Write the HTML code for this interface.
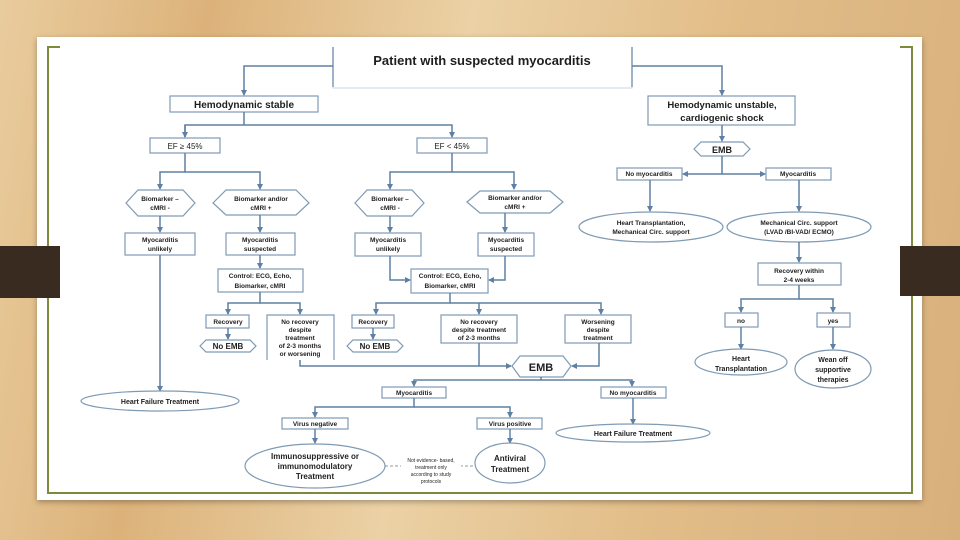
<!DOCTYPE html>
<html><head><meta charset="utf-8"><style>
html,body{margin:0;padding:0;width:960px;height:540px;overflow:hidden}
body{background:linear-gradient(100deg,#e9cc9d 0%,#dcb27a 20%,#ebd1a5 45%,#e2bd88 70%,#d8b07c 100%);font-family:"Liberation Sans",sans-serif}
svg{position:absolute;left:0;top:0}
text{font-family:"Liberation Sans",sans-serif;fill:#1e1e1e;text-anchor:middle}
.b{fill:#fff;stroke:#7f9ab4;stroke-width:1.2}
.l{fill:none;stroke:#5f80a4;stroke-width:1.5}
.s{font-size:6.5px;font-weight:bold}
.m{font-size:8px;font-weight:bold}
</style></head><body>
<svg width="960" height="540" viewBox="0 0 960 540">
<defs><marker id="a" markerWidth="6" markerHeight="6" refX="5" refY="3" orient="auto" markerUnits="userSpaceOnUse"><path d="M0,0 L6,3 L0,6 z" fill="#5f80a4"/></marker></defs>
<rect x="37" y="37" width="885" height="463" fill="#fff" style="filter:drop-shadow(0 2px 3px rgba(0,0,0,.3))"/>
<path d="M60,47 H48 V493 H912 V47 H900" fill="none" stroke="#7d8a3c" stroke-width="2"/>
<rect x="0" y="246" width="60" height="52" fill="#3a2b20"/>
<rect x="900" y="246" width="60" height="50" fill="#3a2b20"/>
<!-- title -->
<path d="M333,47 V88 H632 V47" fill="none" stroke="#c8d6e4" stroke-width="1"/>
<path d="M333,47 V87" stroke="#5f80a4" stroke-width="1.2"/>
<path d="M632,47 V87" stroke="#5f80a4" stroke-width="1.2"/>
<text x="482" y="65" style="font-size:13px;font-weight:bold">Patient with suspected myocarditis</text>
<path class="l" d="M333,66 H244 V95" marker-end="url(#a)"/>
<path class="l" d="M632,66 H722 V95" marker-end="url(#a)"/>
<!-- stable -->
<rect class="b" x="170" y="96" width="148" height="16"/>
<text x="244" y="108" style="font-size:10px;font-weight:bold">Hemodynamic stable</text>
<path class="l" d="M244,112 V125 M185,137 V125 H452 V137" marker-end="url(#a)"/>
<path class="l" d="M185,125 V137" marker-end="url(#a)"/>
<rect class="b" x="150" y="138" width="70" height="15"/><text x="185" y="149" style="font-size:8px">EF ≥ 45%</text>
<rect class="b" x="417" y="138" width="70" height="15"/><text x="452" y="149" style="font-size:8px">EF &lt; 45%</text>
<path class="l" d="M185,153 V172 H260 V189" marker-end="url(#a)"/><path class="l" d="M185,172 H160 V189" marker-end="url(#a)"/>
<path class="l" d="M452,153 V172 H514 V189" marker-end="url(#a)"/><path class="l" d="M452,172 H390 V189" marker-end="url(#a)"/>
<polygon class="b" points="126,203 138,190 183,190 195,203 183,216 138,216"/>
<text x="160" y="201" class="s">Biomarker –</text><text x="160" y="210" class="s">cMRI -</text>
<polygon class="b" points="213,203 226,190 296,190 309,203 296,215 226,215"/>
<text x="261" y="201" class="s">Biomarker and/or</text><text x="261" y="210" class="s">cMRI +</text>
<polygon class="b" points="355,203 367,190 412,190 424,203 412,216 367,216"/>
<text x="390" y="201" class="s">Biomarker –</text><text x="390" y="210" class="s">cMRI -</text>
<polygon class="b" points="467,202 480,191 550,191 563,202 550,213 480,213"/>
<text x="515" y="200" class="s">Biomarker and/or</text><text x="515" y="209" class="s">cMRI +</text>
<path class="l" d="M160,216 V232" marker-end="url(#a)"/><path class="l" d="M260,215 V232" marker-end="url(#a)"/>
<path class="l" d="M390,216 V232" marker-end="url(#a)"/><path class="l" d="M505,213 V232" marker-end="url(#a)"/>
<rect class="b" x="125" y="233" width="70" height="22"/><text x="160" y="242" class="s">Myocarditis</text><text x="160" y="251" class="s">unlikely</text>
<rect class="b" x="226" y="233" width="69" height="22"/><text x="260" y="242" class="s">Myocarditis</text><text x="260" y="251" class="s">suspected</text>
<rect class="b" x="355" y="233" width="66" height="23"/><text x="388" y="242" class="s">Myocarditis</text><text x="388" y="251" class="s">unlikely</text>
<rect class="b" x="478" y="233" width="56" height="23"/><text x="506" y="242" class="s">Myocarditis</text><text x="506" y="251" class="s">suspected</text>
<path class="l" d="M260,255 V268" marker-end="url(#a)"/>
<path class="l" d="M390,256 V280 H410" marker-end="url(#a)"/><path class="l" d="M505,256 V280 H489" marker-end="url(#a)"/>
<rect class="b" x="218" y="269" width="85" height="23"/><text x="260" y="278" class="s">Control: ECG, Echo,</text><text x="260" y="288" class="s">Biomarker, cMRI</text>
<rect class="b" x="411" y="269" width="77" height="24"/><text x="450" y="278" class="s">Control: ECG, Echo,</text><text x="450" y="288" class="s">Biomarker, cMRI</text>
<path class="l" d="M160,255 V391" marker-end="url(#a)"/>
<ellipse class="b" cx="160" cy="401" rx="79" ry="10"/><text x="160" y="404" class="s" style="font-size:7px">Heart Failure Treatment</text>
<!-- control1 outputs -->
<path class="l" d="M260,292 V303 H300 V314" marker-end="url(#a)"/><path class="l" d="M260,303 H228 V314" marker-end="url(#a)"/>
<rect class="b" x="206" y="315" width="43" height="13"/><text x="228" y="324" class="s">Recovery</text>
<path class="l" d="M228,328 V339" marker-end="url(#a)"/>
<polygon class="b" points="200,346 206,340 250,340 256,346 250,352 206,352"/><text x="228" y="349" class="m">No EMB</text>
<path d="M267,360 V315 H334 V360" fill="#fff" stroke="#7f9ab4" stroke-width="1.2"/>
<text x="300" y="324" class="s">No recovery</text><text x="300" y="332" class="s">despite</text><text x="300" y="340" class="s">treatment</text><text x="300" y="348" class="s">of 2-3 months</text><text x="300" y="356" class="s">or worsening</text>
<!-- control2 outputs -->
<path class="l" d="M450,293 V303 H376 V314" marker-end="url(#a)"/><path class="l" d="M450,303 H601 V314" marker-end="url(#a)"/><path class="l" d="M479,303 V314" marker-end="url(#a)"/>
<rect class="b" x="352" y="315" width="42" height="13"/><text x="373" y="324" class="s">Recovery</text>
<path class="l" d="M373,328 V339" marker-end="url(#a)"/>
<polygon class="b" points="347,346 353,340 397,340 403,346 397,352 353,352"/><text x="375" y="349" class="m">No EMB</text>
<rect class="b" x="441" y="315" width="76" height="28"/><text x="479" y="324" class="s">No recovery</text><text x="479" y="332" class="s">despite treatment</text><text x="479" y="340" class="s">of 2-3 months</text>
<rect class="b" x="565" y="315" width="66" height="28"/><text x="598" y="324" class="s">Worsening</text><text x="598" y="332" class="s">despite</text><text x="598" y="340" class="s">treatment</text>
<path class="l" d="M300,360 V366 H511" marker-end="url(#a)"/><path class="l" d="M479,343 V366"/>
<path class="l" d="M599,343 V366 H572" marker-end="url(#a)"/>
<polygon class="b" points="512,366 520,356 563,356 571,366 563,377 520,377"/><text x="541" y="371" style="font-size:11px;font-weight:bold">EMB</text>
<path class="l" d="M541,377 V380 H414 V386" marker-end="url(#a)"/><path class="l" d="M541,380 H632 V386" marker-end="url(#a)"/>
<rect class="b" x="382" y="387" width="64" height="11"/><text x="414" y="395" class="s">Myocarditis</text>
<rect class="b" x="601" y="387" width="65" height="11"/><text x="633" y="395" class="s">No myocarditis</text>
<path class="l" d="M414,398 V407 H315 V417" marker-end="url(#a)"/><path class="l" d="M414,407 H510 V417" marker-end="url(#a)"/>
<rect class="b" x="282" y="418" width="66" height="11"/><text x="315" y="426" class="s">Virus negative</text>
<rect class="b" x="477" y="418" width="65" height="11"/><text x="510" y="426" class="s">Virus positive</text>
<path class="l" d="M633,398 V424" marker-end="url(#a)"/>
<ellipse class="b" cx="633" cy="433" rx="77" ry="9"/><text x="633" y="436" class="s" style="font-size:7px">Heart Failure Treatment</text>
<path class="l" d="M315,429 V443" marker-end="url(#a)"/><path class="l" d="M510,429 V443" marker-end="url(#a)"/>
<ellipse class="b" cx="315" cy="466" rx="70" ry="22"/>
<text x="315" y="459" class="m">Immunosuppressive or</text><text x="315" y="469" class="m">immunomodulatory</text><text x="315" y="479" class="m">Treatment</text>
<ellipse class="b" cx="510" cy="463" rx="35" ry="20"/>
<text x="510" y="461" class="m">Antiviral</text><text x="510" y="472" class="m">Treatment</text>
<path d="M385,466 H475" stroke="#777" stroke-width="0.8" stroke-dasharray="3,2"/>
<rect x="401" y="455" width="60" height="28" fill="#fff"/>
<text x="431" y="462" style="font-size:5px">Not evidence- based,</text><text x="431" y="469" style="font-size:5px">treatment only</text><text x="431" y="476" style="font-size:5px">according to study</text><text x="431" y="483" style="font-size:5px">protocols</text>
<!-- right side -->
<rect class="b" x="648" y="96" width="147" height="29"/>
<text x="722" y="108" style="font-size:9.5px;font-weight:bold">Hemodynamic unstable,</text><text x="722" y="121" style="font-size:9.5px;font-weight:bold">cardiogenic shock</text>
<path class="l" d="M722,125 V141" marker-end="url(#a)"/>
<polygon class="b" points="694,149 701,142 743,142 750,149 743,156 701,156"/><text x="722" y="153" style="font-size:9px;font-weight:bold">EMB</text>
<path class="l" d="M722,156 V174 H683" marker-end="url(#a)"/><path class="l" d="M722,174 H765" marker-end="url(#a)"/>
<rect class="b" x="617" y="168" width="65" height="12"/><text x="649" y="176" class="s">No myocarditis</text>
<rect class="b" x="766" y="168" width="65" height="12"/><text x="798" y="176" class="s">Myocarditis</text>
<path class="l" d="M650,180 V211" marker-end="url(#a)"/><path class="l" d="M799,180 V211" marker-end="url(#a)"/>
<ellipse class="b" cx="651" cy="227" rx="72" ry="15"/><text x="651" y="225" class="s">Heart Transplantation,</text><text x="651" y="234" class="s">Mechanical Circ. support</text>
<ellipse class="b" cx="799" cy="227" rx="72" ry="15"/><text x="799" y="225" class="s">Mechanical Circ. support</text><text x="799" y="234" class="s">(LVAD /BI-VAD/ ECMO)</text>
<path class="l" d="M799,242 V262" marker-end="url(#a)"/>
<rect class="b" x="758" y="263" width="83" height="22"/><text x="799" y="273" class="s">Recovery within</text><text x="799" y="282" class="s">2-4 weeks</text>
<path class="l" d="M799,285 V299 H741 V312" marker-end="url(#a)"/><path class="l" d="M799,299 H833 V312" marker-end="url(#a)"/>
<rect class="b" x="725" y="313" width="33" height="14"/><text x="741" y="323" class="s">no</text>
<rect class="b" x="817" y="313" width="33" height="14"/><text x="833" y="323" class="s">yes</text>
<path class="l" d="M741,327 V349" marker-end="url(#a)"/><path class="l" d="M833,327 V349" marker-end="url(#a)"/>
<ellipse class="b" cx="741" cy="362" rx="46" ry="13"/><text x="741" y="361" class="s" style="font-size:7px">Heart</text><text x="741" y="371" class="s" style="font-size:7px">Transplantation</text>
<ellipse class="b" cx="833" cy="369" rx="38" ry="19"/><text x="833" y="362" class="s" style="font-size:7px">Wean off</text><text x="833" y="372" class="s" style="font-size:7px">supportive</text><text x="833" y="382" class="s" style="font-size:7px">therapies</text>
</svg>
</body></html>
